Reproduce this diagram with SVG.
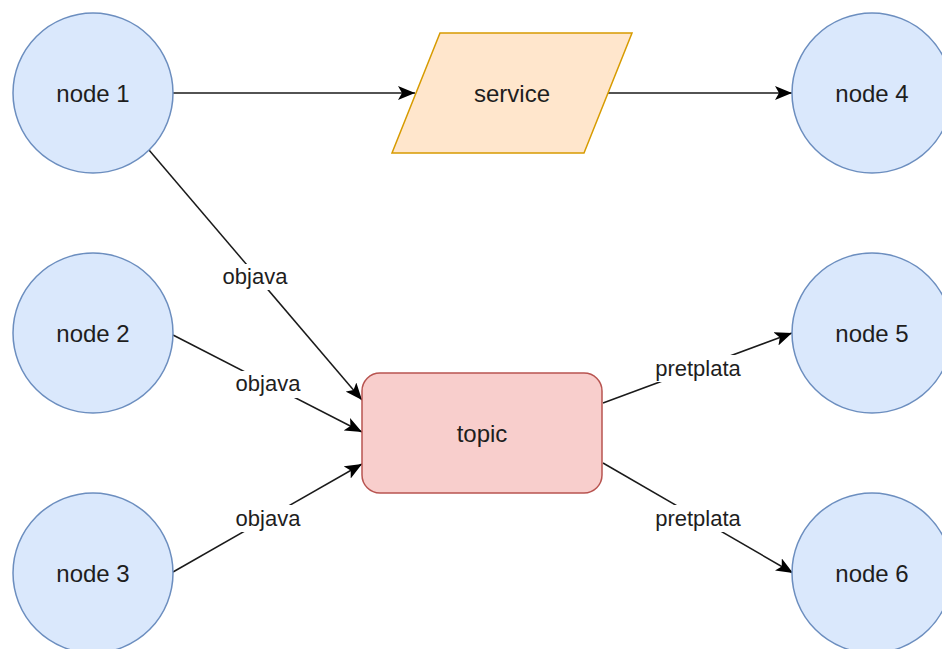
<svg xmlns="http://www.w3.org/2000/svg" width="942" height="649" viewBox="0 0 942 649">
  <style>
    .circle { fill: #dae8fc; stroke: #6c8ebf; stroke-width: 1.5; }
    .service { fill: #ffe6cc; stroke: #d79b00; stroke-width: 1.5; }
    .topic { fill: #f8cecc; stroke: #b85450; stroke-width: 1.5; }
    .ntext { font-family: "Liberation Sans", Arial, sans-serif; font-size: 24px; fill: #1e1e1e; text-anchor: middle; }
    .edge { fill: none; stroke: #1a1a1a; stroke-width: 1.5; marker-end: url(#arrow); }
    .lbg { fill: #ffffff; }
    .ltext { font-family: "Liberation Sans", Arial, sans-serif; font-size: 22px; fill: #1e1e1e; text-anchor: middle; }
  </style>
  <defs>
    <marker id="arrow" markerUnits="userSpaceOnUse" markerWidth="17" markerHeight="14" viewBox="0 0 17 14" refX="17" refY="7" orient="auto">
      <path d="M17,7 L0,0 L4,7 L0,14 Z" fill="#000000"/>
    </marker>
  </defs>
  <rect x="0" y="0" width="942" height="649" fill="#ffffff"/>

  <g id="connectors">
    <line class="edge" x1="173" y1="93" x2="415" y2="93"/>
    <line class="edge" x1="608" y1="93" x2="792" y2="93"/>
    <line class="edge" x1="149" y1="150" x2="362" y2="400"/>
    <line class="edge" x1="173" y1="335" x2="362" y2="432"/>
    <line class="edge" x1="173" y1="572" x2="362" y2="464"/>
    <line class="edge" x1="603" y1="403" x2="792" y2="333"/>
    <line class="edge" x1="603" y1="463" x2="793" y2="573"/>
    <g id="edge-labels">
      <rect class="lbg" x="221" y="264" width="68" height="26"/>
      <text class="ltext" x="255" y="284">objava</text>
      <rect class="lbg" x="234" y="371" width="68" height="27"/>
      <text class="ltext" x="268" y="391">objava</text>
      <rect class="lbg" x="234" y="505" width="68" height="27"/>
      <text class="ltext" x="268" y="526">objava</text>
      <rect class="lbg" x="653" y="355" width="90" height="27"/>
      <text class="ltext" x="698" y="376">pretplata</text>
      <rect class="lbg" x="653" y="505" width="90" height="27"/>
      <text class="ltext" x="698" y="526">pretplata</text>
    </g>
  </g>

  <g id="node1">
    <circle class="circle" cx="93" cy="93" r="80"/>
    <text class="ntext" x="93" y="102">node 1</text>
  </g>
  <g id="node2">
    <circle class="circle" cx="93" cy="333" r="80"/>
    <text class="ntext" x="93" y="342">node 2</text>
  </g>
  <g id="node3">
    <circle class="circle" cx="93" cy="573" r="80"/>
    <text class="ntext" x="93" y="582">node 3</text>
  </g>
  <g id="node4">
    <circle class="circle" cx="872" cy="93" r="80"/>
    <text class="ntext" x="872" y="102">node 4</text>
  </g>
  <g id="node5">
    <circle class="circle" cx="872" cy="333" r="80"/>
    <text class="ntext" x="872" y="342">node 5</text>
  </g>
  <g id="node6">
    <circle class="circle" cx="872" cy="573" r="80"/>
    <text class="ntext" x="872" y="582">node 6</text>
  </g>
  <g id="service">
    <polygon class="service" points="440,33 632,33 584,153 392,153"/>
    <text class="ntext" x="512" y="102">service</text>
  </g>
  <g id="topic">
    <rect class="topic" x="362" y="373" width="240" height="120" rx="18" ry="18"/>
    <text class="ntext" x="482" y="442">topic</text>
  </g>
</svg>
